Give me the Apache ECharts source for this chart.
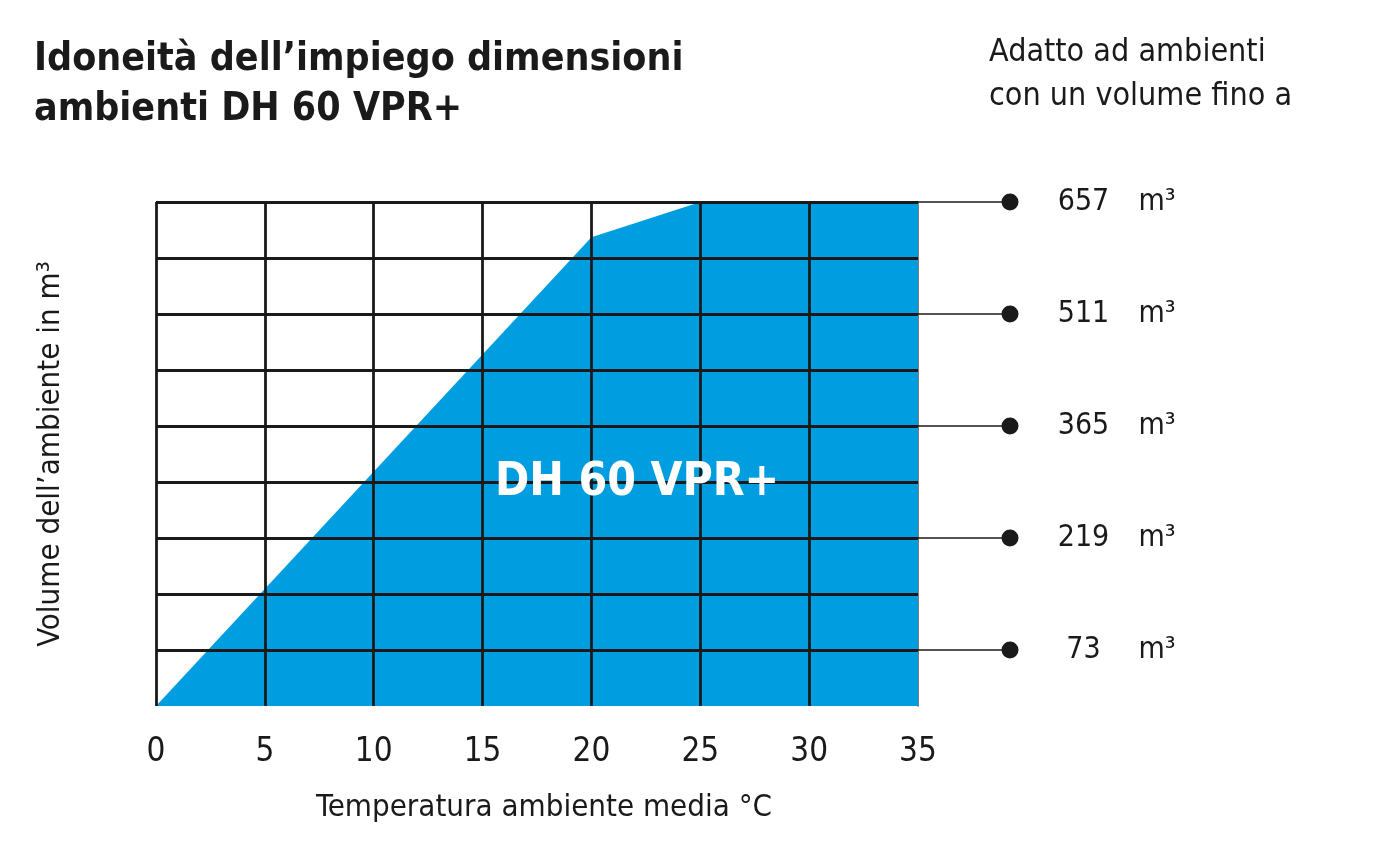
<!DOCTYPE html>
<html>
<head>
<meta charset="utf-8">
<script src="https://cdn.jsdelivr.net/npm/echarts@6/dist/echarts.min.js"></script>
<style>
html,body{margin:0;padding:0;background:#fff;}
#c{width:1400px;height:851px;}
</style>
</head>
<body>
<div id="c"></div>
<script>
// ---- data ----
const temps = [0, 20, 25, 35];            // °C
const volumes = [0, 611, 657, 657];       // m³ boundary of the usage area
const capacityLevels = [73, 219, 365, 511, 657]; // labelled volumes on the right
const xMin = 0, xMax = 35, xStep = 5;
const yMin = 0, yMax = 657, yStep = 73;
const titleText = 'Idoneità dell’impiego dimensioni\nambienti DH 60 VPR+';
const noteText = 'Adatto ad ambienti\ncon un volume fino a';
const xName = 'Temperatura ambiente media °C';
const yName = 'Volume dell’ambiente in m³';
const areaLabel = 'DH 60 VPR+';
const areaLabelAt = [22.1, 290];

const FONT = '"Liberation Sans Narrow","DejaVu Sans Condensed","Roboto Condensed","Arial Narrow",sans-serif';
const INK = '#1a1a1a';
const BLUE = '#009ee0';

const chart = echarts.init(document.getElementById('c'), null, {renderer: 'canvas'});

const areaData = temps.map((t, i) => [t, volumes[i]]);

chart.setOption({
  backgroundColor: '#fff',
  animation: false,
  textStyle: {fontFamily: FONT},
  title: [
    {text: titleText, left: 29, top: 30,
     textStyle: {fontFamily: FONT, fontWeight: 'bold', fontSize: 39, lineHeight: 50, color: INK}},
    {text: noteText, left: 984, top: 26,
     textStyle: {fontFamily: FONT, fontWeight: 'normal', fontSize: 32, lineHeight: 44, color: INK}}
  ],
  grid: [
    {left: 156, top: 202, width: 762, height: 504, containLabel: false},
    {left: 918, top: 202, width: 92, height: 504, containLabel: false}
  ],
  xAxis: [
    {type: 'value', gridIndex: 0, min: xMin, max: xMax, interval: xStep, z: 5,
     axisLine: {show: false}, axisTick: {show: false},
     axisLabel: {fontFamily: FONT, fontSize: 33, color: INK, margin: 30},
     splitLine: {show: true, showMinLine: true, showMaxLine: false, lineStyle: {color: INK, width: 2.8}},
     name: xName, nameLocation: 'middle', nameGap: 86,
     nameTextStyle: {fontFamily: FONT, fontSize: 31, color: INK, padding: [0, 0, 0, 14]}},
    {type: 'value', gridIndex: 1, min: 0, max: 1, show: false}
  ],
  yAxis: [
    {type: 'value', gridIndex: 0, min: yMin, max: yMax, interval: yStep, z: 5,
     axisLine: {show: false}, axisTick: {show: false}, axisLabel: {show: false},
     splitLine: {show: true, showMinLine: false, showMaxLine: true, lineStyle: {color: INK, width: 2.8}},
     name: yName, nameLocation: 'middle', nameGap: 90, nameRotate: 90,
     nameTextStyle: {fontFamily: FONT, fontSize: 31, color: INK}},
    {type: 'value', gridIndex: 1, min: yMin, max: yMax, interval: yStep,
     axisLine: {show: true, lineStyle: {color: '#555', width: 1.5}},
     axisTick: {show: false}, axisLabel: {show: false}, splitLine: {show: false}}
  ],
  series: [
    {type: 'line', xAxisIndex: 0, yAxisIndex: 0, data: areaData, symbol: 'none',
     lineStyle: {width: 0, color: BLUE}, areaStyle: {color: BLUE, opacity: 1}, z: 1},
    {type: 'custom', xAxisIndex: 1, yAxisIndex: 1, data: capacityLevels.map(v => [v]),
     encode: {y: 0}, z: 3, clip: false,
     renderItem: function (params, api) {
       const v = api.value(0);
       const a = api.coord([0, v]);
       const b = api.coord([1, v]);
       return {type: 'line', shape: {x1: a[0], y1: a[1], x2: b[0], y2: b[1]},
               style: {stroke: INK, lineWidth: 1.6}};
     }},
    {type: 'scatter', xAxisIndex: 1, yAxisIndex: 1,
     data: capacityLevels.map(v => [1, v]), symbol: 'circle', symbolSize: 17,
     itemStyle: {color: INK, opacity: 1}, z: 4,
     label: {show: true, position: 'right', distance: 10, color: INK, opacity: 1,
       formatter: p => '{n|' + p.value[1] + '}{u|m³}',
       rich: {
         n: {fontFamily: FONT, fontSize: 30, color: INK, width: 110, align: 'right'},
         u: {fontFamily: FONT, fontSize: 30, color: INK, padding: [0, 0, 0, 0]}
       }}}
  ]
});

// inner label placed at data position inside the blue area
const lp = chart.convertToPixel({gridIndex: 0}, areaLabelAt);
chart.setOption({graphic: [{type: 'text', x: lp[0], y: lp[1], z: 10,
  style: {text: areaLabel, fontFamily: FONT, fontWeight: 'bold', fontSize: 46, fill: '#ffffff',
          align: 'center', verticalAlign: 'middle'}}]});
</script>
</body>
</html>
